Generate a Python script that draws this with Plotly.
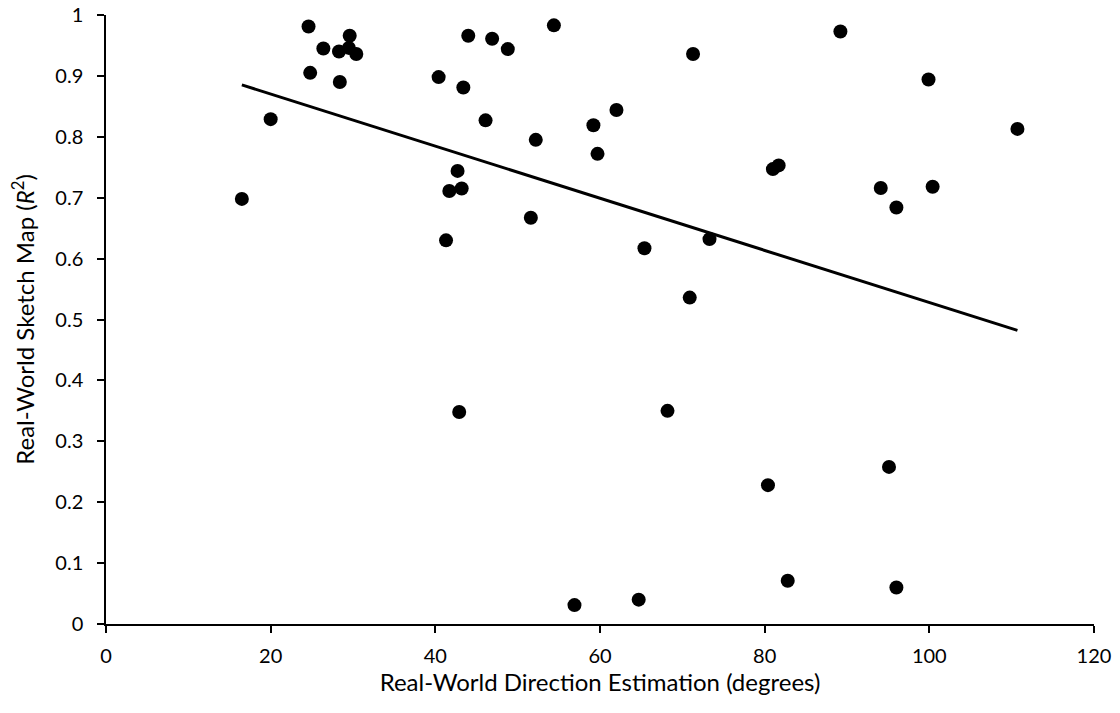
import numpy as np
import plotly.graph_objects as go

direction_deg = [16.5, 20.0, 24.6, 24.8, 26.4, 28.3, 28.4, 29.6, 29.5, 30.4,
                 40.4, 41.3, 41.7, 42.7, 42.9, 43.2, 43.4, 44.0, 46.1, 46.9,
                 48.8, 51.6, 52.2, 54.4, 56.9, 59.2, 59.7, 62.0, 64.7, 65.4,
                 68.2, 70.9, 71.3, 73.3, 80.4, 81.0, 81.7, 82.8, 89.2, 94.1,
                 95.1, 96.0, 96.0, 99.9, 100.4, 110.7]
sketch_r2 = [0.698, 0.829, 0.981, 0.905, 0.945, 0.940, 0.890, 0.966, 0.946, 0.936,
             0.898, 0.630, 0.711, 0.744, 0.348, 0.715, 0.881, 0.966, 0.827, 0.961,
             0.944, 0.667, 0.795, 0.983, 0.031, 0.819, 0.772, 0.844, 0.040, 0.617,
             0.350, 0.536, 0.936, 0.632, 0.228, 0.747, 0.753, 0.071, 0.973, 0.716,
             0.258, 0.684, 0.060, 0.894, 0.718, 0.813]

x_ticks = [0, 20, 40, 60, 80, 100, 120]
y_ticks = [0, 0.1, 0.2, 0.3, 0.4, 0.5, 0.6, 0.7, 0.8, 0.9, 1]

xa = np.array(direction_deg)
ya = np.array(sketch_r2)
slope, intercept = np.polyfit(xa, ya, 1)
trend_x = [xa.min(), xa.max()]
trend_y = [slope * v + intercept for v in trend_x]

fig = go.Figure()
fig.add_trace(go.Scatter(x=trend_x, y=trend_y, mode="lines",
                         line=dict(color="black", width=3), cliponaxis=False,
                         showlegend=False, hoverinfo="skip"))
fig.add_trace(go.Scatter(x=direction_deg, y=sketch_r2, mode="markers",
                         marker=dict(color="black", size=14), cliponaxis=False,
                         showlegend=False))

font_family = "Lato, Open Sans, sans-serif"
fig.update_layout(
    width=1120, height=713,
    margin=dict(l=106, r=26, t=15, b=89, autoexpand=False),
    paper_bgcolor="white", plot_bgcolor="white",
    font=dict(family=font_family, size=20, color="black"),
)
fig.update_xaxes(range=[0, 120], tickvals=x_ticks, ticktext=[str(v) for v in x_ticks],
                 showgrid=False, zeroline=False, showline=True, linecolor="black",
                 linewidth=1.5, ticks="outside", ticklen=7, tickwidth=1.5, tickcolor="black",
                 automargin=False, ticklabelstandoff=6, ticklabeloverflow="allow",
                 title=dict(text="Real-World Direction Estimation (degrees)", standoff=5),
                 tickfont=dict(size=20))
fig.update_yaxes(range=[0, 1], tickvals=y_ticks, ticktext=[f"{v:g}" for v in y_ticks],
                 showgrid=False, zeroline=False, showline=True, linecolor="black",
                 linewidth=1.5, ticks="outside", ticklen=7, tickwidth=1.5, tickcolor="black",
                 automargin=False, ticklabelstandoff=10, ticklabeloverflow="allow",
                 title=dict(text="Real-World Sketch Map (<i>R</i><sup>2</sup>)", standoff=14),
                 tickfont=dict(size=20))

fig.write_html("out.html", config={"displayModeBar": False},
               post_script="document.body.style.margin='0';document.body.style.overflow='hidden';")
